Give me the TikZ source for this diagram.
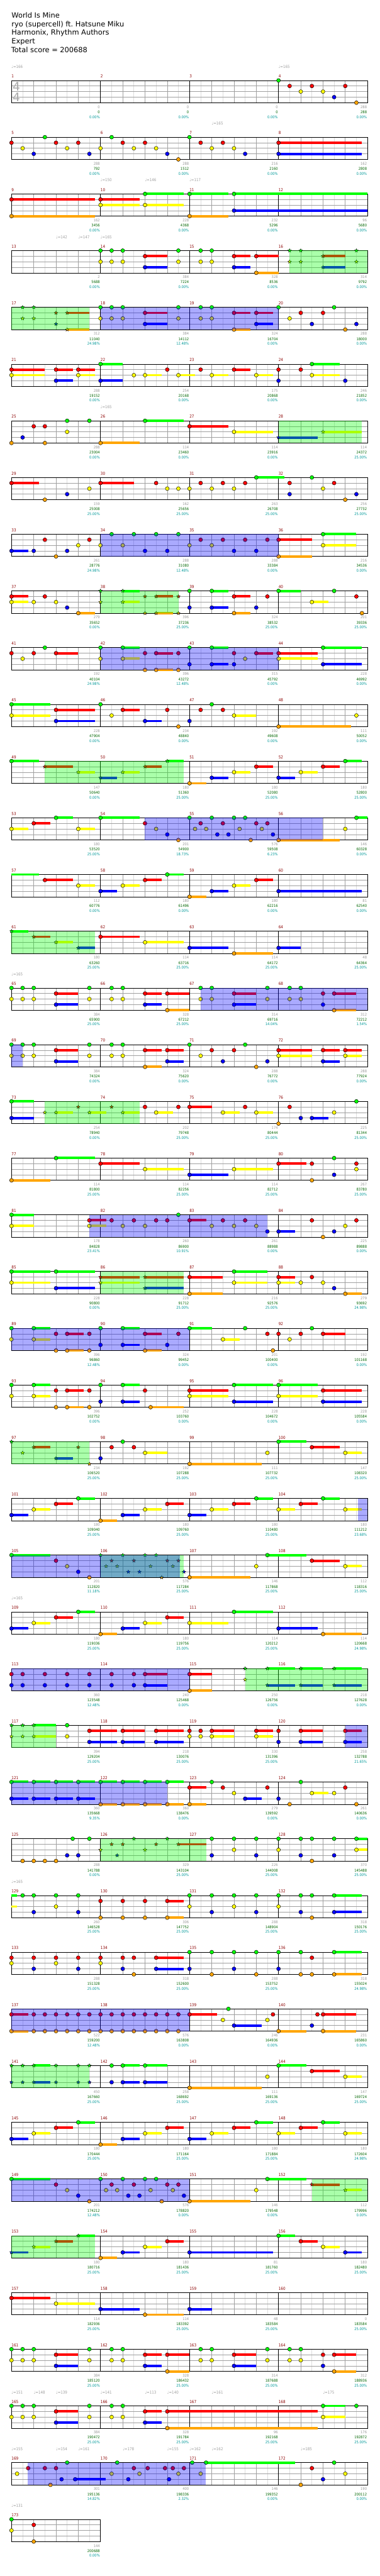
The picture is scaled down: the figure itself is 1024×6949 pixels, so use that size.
\documentclass[tikz,border=0pt]{standalone}
\usepackage{fontspec}
\setmainfont{DejaVu Sans}
\newfontfamily\chartfont[FakeStretch=0.88]{DejaVu Sans}
\usepackage{xcolor}
\usetikzlibrary{shapes.geometric}

\definecolor{lane0}{RGB}{0,255,0}
\definecolor{lane1}{RGB}{255,0,0}
\definecolor{lane2}{RGB}{255,255,0}
\definecolor{lane3}{RGB}{0,0,255}
\definecolor{lane4}{RGB}{255,165,0}
\definecolor{finegray}{RGB}{221,221,221}
\definecolor{beatgray}{RGB}{160,160,160}
\definecolor{measred}{RGB}{140,0,0}
\definecolor{cntgray}{RGB}{153,153,153}
\definecolor{sumgreen}{RGB}{0,102,0}
\definecolor{pctteal}{RGB}{0,153,153}
\definecolor{tempogray}{RGB}{160,160,160}
\definecolor{tsiggray}{RGB}{170,170,170}
\definecolor{spblue}{RGB}{0,0,255}
\definecolor{odgreen}{RGB}{0,255,0}

% one staff line: row, first measure, measures, count/sum/percent per measure
\newcommand\staffrow[4]{%
  \pgfmathsetmacro\rowtop{217+153*#1}
  \pgfmathsetmacro\rowend{31+240*#3}
  \pgfmathtruncatemacro\nfine{8*#3-1}
  \pgfmathtruncatemacro\nbeat{4*#3-1}
  \foreach \i in {1,3,...,\nfine} \draw[finegrid] (31+30*\i,\rowtop) -- ++(0,60);
  \foreach \i in {1,...,\nbeat} \draw[beatgrid] (31+60*\i,\rowtop) -- ++(0,60);
  \foreach \j in {1,2,3} \draw[beatgrid] (31,\rowtop+15*\j) -- (\rowend,\rowtop+15*\j);
  \ifnum#3>1
    \pgfmathtruncatemacro\nbar{#3-1}
    \foreach \i in {1,...,\nbar} \draw[barline] (31+240*\i,\rowtop) -- ++(0,60);
  \fi
  \draw[barline] (31,\rowtop) rectangle (\rowend,\rowtop+60);
  \foreach \cnt/\tot/\pct [count=\k] in {#4}{%
    \pgfmathtruncatemacro\mn{#2+\k-1}
    \pgfmathsetmacro\mx{31+240*\k}
    \node[measno] (num\mn) at (\mx-240,\rowtop-7) {\mn};
    \node[notecount] (nc\mn) at (\mx-1.5,\rowtop+75) {\cnt};
    \node[scoresum] (ss\mn) at (\mx-1.5,\rowtop+89) {\tot};
    \node[spct] (sp\mn) at (\mx-1.5,\rowtop+102) {\pct\%};
  }}
% tempo marks: row, beat/value
\newcommand\bpm[2]{%
  \pgfmathsetmacro\rowtop{217+153*#1}
  \foreach \bt/\val [count=\k] in {#2}
    \node[tempomark] (bpm#1-\k) at (31+60*\bt,\rowtop-33) {♩=\val};}
% gems: row, beat/lane/hold
\newcommand\gems[2]{%
  \pgfmathsetmacro\rowtop{217+153*#1}
  \foreach \gp/\gl/\gs in {#2}{%
    \pgfmathsetmacro\gx{31+60*\gp}
    \pgfmathsetmacro\gy{\rowtop+15*\gl}
    \ifdim\gs pt>0pt \draw[holdbar,draw=lane\gl] (\gx,\gy) -- ++(60*\gs,0);\fi
    \filldraw[gem,fill=lane\gl] (\gx,\gy) circle (3.9pt);
  }}
\newcommand\stargems[2]{%
  \pgfmathsetmacro\rowtop{217+153*#1}
  \foreach \gp/\gl/\gs [count=\k] in {#2}{%
    \pgfmathsetmacro\gx{31+60*\gp}
    \pgfmathsetmacro\gy{\rowtop+15*\gl}
    \ifdim\gs pt>0pt \draw[holdbar,draw=lane\gl] (\gx,\gy) -- ++(60*\gs,0);\fi
    \node[stargem,fill=lane\gl] (st#1-\k) at (\gx,\gy) {};
  }}
% holds carried over from the row above
\newcommand\tails[2]{%
  \pgfmathsetmacro\rowtop{217+153*#1}
  \foreach \gp/\gl/\gs in {#2}
    \draw[holdbar,draw=lane\gl] (31+60*\gp,\rowtop+15*\gl) -- ++(60*\gs,0);}
% star power / overdrive zones: row, from beat, to beat, colour
\newcommand\spzone[4]{%
  \pgfmathsetmacro\rowtop{217+153*#1}
  \fill[#4,opacity=0.333] (31+60*#2,\rowtop) rectangle (31+60*#3,\rowtop+60);}

\begin{document}
\begin{tikzpicture}[x=0.75pt, y=-0.75pt,
    finegrid/.style={draw=finegray, line width=0.75pt},
    beatgrid/.style={draw=beatgray, line width=0.75pt},
    barline/.style={draw=black, line width=0.8pt},
    holdbar/.style={line width=5pt},
    gem/.style={draw=black, line width=0.6pt},
    stargem/.style={star, star points=5, star point ratio=2.3, minimum size=7.5pt,
        inner sep=0pt, draw=black, line width=0.5pt},
    headline/.style={anchor=base west, inner sep=0pt, font=\fontsize{14.5}{17}\selectfont},
    tsig/.style={inner sep=0pt, text=tsiggray, font=\fontsize{24}{24}\selectfont},
    measno/.style={anchor=base west, inner sep=0pt, text=measred,
        font=\chartfont\fontsize{8.2}{9}\selectfont},
    notecount/.style={anchor=base east, inner sep=0pt, text=cntgray,
        font=\chartfont\fontsize{7.5}{8}\selectfont},
    scoresum/.style={notecount, text=sumgreen},
    spct/.style={notecount, text=pctteal},
    tempomark/.style={anchor=base west, inner sep=0pt, text=tempogray,
        font=\chartfont\fontsize{8}{9}\selectfont}]
\useasboundingbox (0,0) rectangle (1024,6949);
\fill[white] (0,0) rectangle (1024,6949);

\node[headline] (title) at (31,49) {World Is Mine};
\node[headline] (artist) at (31,72) {ryo (supercell) ft.\ Hatsune Miku};
\node[headline] (charter) at (31,95) {Harmonix, Rhythm Authors};
\node[headline] (level) at (31,118) {Expert};
\node[headline] (total) at (30,141) {Total score = 200688};

% measures 1-4
\staffrow{0}{1}{4}{0/0/0.00,0/0/0.00,0/0/0.00,288/288/0.00}
\node[tsig] (tsigtop) at (44.5,233) {4};
\node[tsig] (tsigbot) at (44.5,262.5) {4};
\bpm{0}{0/166,12/165}
\gems{0}{12/0/0,12.5/1/0,13/2/0,13.5/1/0,14/2/0,14.5/3/0,15/1/0,15.5/4/0}

% measures 5-8
\staffrow{1}{5}{4}{288/792/0.00,288/1512/0.00,216/2160/0.00,162/2808/0.00}
\bpm{1}{9/165}
\gems{1}{0/1/0,0.5/2/0,1/3/0,1.5/0/0,2/1/0,2.5/2/0,3/1/0,3.5/3/0,4/2/0,4.5/0/0,5/1/0,
  5.5/2/0,6/1/0,6.5/2/0,7/3/0,7.5/4/0,8/0/0,8.5/1/0,9/2/0,9.5/1/0,10/2/0,10.5/3/0,
  12/1/3.75,12/3/3.75}

% measures 9-12
\staffrow{2}{9}{4}{162/3456/0.00,228/4368/0.00,232/5296/0.00,96/5680/0.00}
\bpm{2}{4/150,6/146,8/117}
\gems{2}{0/1/3.75,0/4/3.75,4/1/1.75,4/2/1.75,6/0/1.75,6/2/1.75,8/0/1.75,8/4/1.75,
  10/0/6,10/3/6}

% measures 13-16
\staffrow{3}{13}{4}{2/5688/0.00,384/7224/0.00,328/8536/0.00,314/9792/0.00}
\bpm{3}{2/142,3/147,4/165}
\gems{3}{4/0/0,4/2/0,4.5/0/0,4.5/2/0,5/0/0,5/2/0,6/1/1,6/3/1,7.5/0/0,7.5/2/0,8.5/0/0,
  8.5/2/0,9/0/0,9/2/0,10/1/0.75,10/3/0.75,11/1/1,11/4/1}
\stargems{3}{12.5/0/0,12.5/2/0,13/0/0,13/2/0,14/1/1,14/3/1,15.5/0/0,15.5/2/0}
\spzone{3}{12.5}{16}{odgreen}

% measures 17-20
\staffrow{4}{17}{4}{312/11040/24.98,384/14112/12.48,324/16704/0.00,288/18000/0.00}
\stargems{4}{0.5/0/0,0.5/2/0,1/0/0,1/2/0,2/1/0,2/3/0,2.5/1/1,2.5/4/1}
\gems{4}{4/0/0,4/2/0,4.5/0/0,4.5/2/0,5/0/0,5/2/0,6/1/1,6/3/1,7.5/0/0,7.5/2/0,8.5/0/0,
  8.5/2/0,9/0/0,9/2/0,10/1/0.75,10/4/0.75,11/1/0.75,11/3/0.75,12/0/0,12.5/2/0,13/1/0,
  13.5/3/0,14/1/0,14.5/0/0,15/4/0,15.5/3/0}
\spzone{4}{0}{3.5}{odgreen}
\spzone{4}{4}{12}{spblue}

% measures 21-24
\staffrow{5}{21}{4}{288/19152/0.00,254/20168/0.00,175/20868/0.00,246/21852/0.00}
\gems{5}{0/1/1.5,0/2/1.5,2/1/0.75,2/3/0.75,3/1/0.75,3/2/0.75,4/0/1,4/3/1,5.5/2/0,
  6/2/0.75,7/1/0,7.5/2/0.75,8.5/1/0,9/2/0.75,10/1/0.75,11/2/0.75,12/1/0,12/3/0,13/1/0,
  13.5/0/1.25,13.5/2/1.25,15/3/0}

% measures 25-28
\staffrow{6}{25}{4}{288/23004/0.00,114/23460/0.00,114/23916/0.00,114/24372/25.00}
\bpm{6}{4/165}
\gems{6}{0/4/0,0.5/3/0,1/1/0,1.5/1/0,1.5/4/0,2.5/0/0,2.5/2/0,3.5/0/0,4/4/1.75,
  6/0/1.75,8/1/1.75,10/2/1.75}
\stargems{6}{12/3/1.75,14/2/1.75}
\spzone{6}{12}{15.75}{odgreen}

% measures 29-32
\staffrow{7}{29}{4}{159/25008/25.00,162/25656/25.00,263/26708/25.00,256/27732/25.00}
\gems{7}{0/1/1.25,1.5/4/0,2.5/3/0,3.5/2/0,4/1/1.5,6.5/1/0,7/2/0,7.5/2/0,8/2/0,8.5/1/0,
  9/2/0,9.5/1/0,10/2/0,10.5/1/0,11/0/1.25,12.5/1/0,12.5/3/0,13.5/0/0,14/2/0,14.5/1/0,
  15/4/0,15.5/3/0}

% measures 33-36
\staffrow{8}{33}{4}{261/28776/24.98,288/31080/12.48,288/33384/0.00,216/34536/0.00}
\gems{8}{0/3/0.75,1/3/0,1.5/1/0,2/4/0,2.5/3/0,3/2/0,3.5/1/0,4/2/0,4.5/0/0,5/2/0,
  5.5/0/0,6/3/0,6.5/0/0,7/3/0,7.5/0/0,8/2/0,8.5/1/0,9/2/0,9.5/1/0,10/3/0,10.5/1/0,
  11/3/0,11.5/1/0,12/1/1.5,12/4/1.5,14/0/1.5,14/2/1.5}
\spzone{8}{4}{12}{spblue}

% measures 37-40
\staffrow{9}{37}{4}{279/35652/0.00,396/37236/25.00,324/38532/25.00,201/39336/25.00}
\gems{9}{0/1/0.75,0/2/0.75,1/2/0,1.5/1/0,2/2/0,2.5/3/0,3/4/0.75,8/0/0,8/3/0,9/0/0.75,
  9/3/0.75,10/1/0.75,10/4/0.75,11/3/0,11.5/1/0,12/0/1,13.5/2/0.75,14.5/0/0,15.5/1/0,
  15.75/4/0}
\stargems{9}{4/0/0,4/2/0,5/0/0.75,5/2/0.75,6/1/0,6/4/0,6.5/1/0.75,6.5/4/0.75,7.5/1/0,
  7.5/4/0}
\spzone{9}{4}{7.5}{odgreen}

% measures 41-44
\staffrow{10}{41}{4}{192/40104/24.98,396/43272/12.48,315/45792/0.00,228/46992/0.00}
\gems{10}{0/1/0,0.5/2/0,1/1/0,1.5/0/0,2/1/1,4/0/0,4/2/0,5/0/0.75,5/2/0.75,6/1/0,6/4/0,
  6.5/1/0.75,6.5/4/0.75,7.5/1/0,7.5/4/0,8/0/0,8/3/0,9/0/0.75,9/3/0.75,10/1/0,10/3/0,
  10.5/2/0,11/1/0.75,12/1/1.75,12/2/1.75,14/0/1.75,14/3/1.75}
\spzone{10}{4}{12}{spblue}

% measures 45-48
\staffrow{11}{45}{4}{228/47904/0.00,234/48840/0.00,192/49608/0.00,111/50052/0.00}
\gems{11}{0/0/1.75,0/2/1.75,2/1/1.75,2/3/1.75,4/0/0,4.5/2/0,5/1/0.75,6/3/0.75,7/1/0,
  7.5/4/0,8/3/0,8.5/1/0,9/0/0,9.5/1/0,10/2/1,12/4/3.25,15.5/2/0}

% measures 49-52
\staffrow{12}{49}{4}{147/50640/0.00,180/51360/25.00,180/52080/25.00,180/52800/25.00}
\gems{12}{0/0/1.25,8/4/0.75,9/3/0.75,10/2/0.75,11/1/0.75,12/3/0.75,13/2/0.75,14/1/0.75,
  15/0/0.75}
\stargems{12}{1.5/1/1.25,3/2/0.75,4/3/0.75,5/2/0.75,6/1/0.75,7/0/0.75}
\spzone{12}{1.5}{7.75}{odgreen}

% measures 53-56
\staffrow{13}{53}{4}{180/53520/25.00,201/54900/18.73,576/59508/6.23,146/60328/0.00}
\gems{13}{0/2/0.75,1/1/0.75,2/0/0.75,3/2/0.75,4/0/1.75,6/1/0,6.5/2/0,7/3/0,7.5/4/0,
  8/0/0,8.25/2/0,8.5/1/0,8.75/2/0,9/0/0,9.25/3/0,9.5/1/0,9.75/3/0,10/0/0,10.25/2/0,
  10.5/0/0,10.75/4/0,11/1/0,11.25/2/0,11.5/1/0,11.75/3/0,12/4/2.75,15/2/0,15.5/0/0.5}
\spzone{13}{6}{14}{spblue}

% measures 57-60
\staffrow{14}{57}{4}{112/60776/0.00,180/61496/0.00,180/62216/0.00,81/62540/0.00}
\tails{14}{0/0/1.25}
\gems{14}{1.5/1/1.25,3/2/0.75,4/3/0.75,5/2/0.75,6/1/0.75,7/0/0.75,8/4/0.75,9/3/0.75,
  10/2/0.75,11/1/0.75,12/3/3.75}

% measures 61-64
\staffrow{15}{61}{4}{180/63260/25.00,114/63716/25.00,114/64172/25.00,48/64364/25.00}
\stargems{15}{0/0/0.75,1/1/0.75,2/2/0.75,3/3/0.75}
\gems{15}{4/1/1.75,6/2/1.75,8/3/1.75,10/4/1.75,12/3/1}
\spzone{15}{0}{3.75}{odgreen}

% measures 65-68
\staffrow{16}{65}{4}{384/65900/25.00,328/67212/25.00,314/69716/14.04,312/72212/1.54}
\bpm{16}{0/165}
\gems{16}{0/0/0,0/2/0,0.5/0/0,0.5/2/0,1/0/0,1/2/0,2/1/1,2/3/1,3.5/0/0,3.5/2/0,4.5/0/0,
  4.5/2/0,5/0/0,5/2/0,6/1/0.75,6/3/0.75,7/1/1,7/4/1,8.5/0/0,8.5/2/0,9/0/0,9/2/0,
  10/1/1,10/3/1,11.5/0/0,11.5/2/0,12.5/0/0,12.5/2/0,13/0/0,13/2/0,14/1/0,14/3/0,
  14.5/1/1,14.5/4/1}
\spzone{16}{8.5}{16}{spblue}

% measures 69-72
\staffrow{17}{69}{4}{384/74324/0.00,324/75620/0.00,288/76772/0.00,288/77924/0.00}
\gems{17}{0/0/0,0/2/0,0.5/0/0,0.5/2/0,1/0/0,1/2/0,2/1/1,2/3/1,3.5/0/0,3.5/2/0,4.5/0/0,
  4.5/2/0,5/0/0,5/2/0,6/1/0.75,6/4/0.75,7/1/0.75,7/3/0.75,8/0/0,8.5/2/0,9/1/0,9.5/3/0,
  10/1/0,10.5/0/0,11/4/0,11.5/3/0,12/1/1.5,12/2/1.5,14/1/0.75,14/3/0.75,15/1/0.75,
  15/2/0.75}
\spzone{17}{0}{0.5}{spblue}

% measures 73-76
\staffrow{18}{73}{4}{254/78940/0.00,202/79748/25.00,174/80444/25.00,225/81344/25.00}
\gems{18}{0/0/1,0/3/1,6/1/0,6.5/2/0.75,7.5/1/0,8/1/1,9.5/2/0.75,10.5/1/0,11/2/0.75,
  12/4/0,12.5/1/0,13/3/0,13.5/3/0.75,14.5/2/0,15.5/0/0}
\stargems{18}{1.5/2/0,2/2/0.75,3/1/0,3.5/2/0.75,4.5/1/0,5/2/0.75}
\spzone{18}{1.5}{5.75}{odgreen}

% measures 77-80
\staffrow{19}{77}{4}{114/81800/25.00,114/82256/25.00,114/82712/25.00,267/83780/25.00}
\gems{19}{0/4/1.75,2/0/1.75,4/1/1.75,6/2/1.75,8/3/1.75,10/2/1.75,12/1/1.25,13.5/1/0,
  13.5/4/0,14.5/0/0,14.5/3/0,15.5/1/0,15.5/2/0}

% measures 81-84
\staffrow{20}{81}{4}{178/84828/23.41,260/86900/10.91,261/88988/0.00,225/89888/0.00}
\gems{20}{0/0/1,0/2/1,3.5/1/0.75,3.5/2/0.75,4.5/1/0,5/2/0,5.5/1/0,6/2/0,6.5/1/0,7/1/0,
  7.5/0/0,8/1/0.75,9/2/0,9.5/1/0,10/2/0,10.5/1/0,11/2/0,11.5/3/0,12/3/0.75,13.5/1/0,
  14/4/0,14.5/3/0,15/2/0,15.5/1/0}
\spzone{20}{3.5}{11.5}{spblue}

% measures 85-88
\staffrow{21}{85}{4}{228/90800/0.00,228/91712/25.00,216/92576/25.00,279/93692/24.98}
\gems{21}{0/0/1.75,0/2/1.75,2/0/1.75,2/3/1.75,8/1/1.5,8/4/1.5,10/0/1.5,10/2/1.5,
  12/1/0.75,12/2/0.75,13/2/0,13.5/1/0,14/2/0,14.5/3/0,15/4/0.75}
\stargems{21}{4/1/1.75,4/2/1.75,6/1/1.75,6/3/1.75}
\spzone{21}{4}{7.75}{odgreen}

% measures 89-92
\staffrow{22}{89}{4}{396/96860/12.48,324/99452/0.00,201/100400/0.00,192/101168/0.00}
\gems{22}{0/0/0,0/2/0,1/0/0.75,1/2/0.75,2/1/0,2/4/0,2.5/1/0.75,2.5/4/0.75,3.5/1/0,
  3.5/4/0,4/0/0,4/3/0,5/0/0.75,5/3/0.75,6/1/0.75,6/4/0.75,7/3/0,7.5/1/0,8/0/1,
  9.5/2/0.75,10.5/0/0,11.5/1/0,11.75/4/0,12/1/0,12.5/2/0,13/1/0,13.5/0/0,14/1/1}
\spzone{22}{0}{8}{spblue}

% measures 93-96
\staffrow{23}{93}{4}{396/102752/0.00,252/103760/0.00,228/104672/0.00,228/105584/0.00}
\gems{23}{0/0/0,0/2/0,1/0/0.75,1/2/0.75,2/1/0,2/4/0,2.5/1/0.75,2.5/4/0.75,3.5/1/0,
  3.5/4/0,4/0/0,4/3/0,5/0/0.75,5/3/0.75,6/1/0,6.25/4/1.5,8/1/1.75,8/2/1.75,10/0/1.75,
  10/3/1.75,12/0/1.75,12/2/1.75,14/1/1.75,14/3/1.75}

% measures 97-100
\staffrow{24}{97}{4}{234/106520/25.00,192/107288/25.00,111/107732/25.00,147/108320/25.00}
\stargems{24}{0/0/0,0.5/2/0,1/1/0.75,2/3/0.75,3/1/0,3.5/4/0}
\gems{24}{4/3/0,4.5/1/0,5/0/0,5.5/1/0,6/2/1,8/4/3.25,11.5/2/0,12/0/1.25,13.5/1/1.25,
  15/2/0.75}
\spzone{24}{0}{3.5}{odgreen}

% measures 101-104
\staffrow{25}{101}{4}{180/109040/25.00,180/109760/25.00,180/110480/25.00,180/111212/23.68}
\gems{25}{0/3/0.75,1/2/0.75,2/1/0.75,3/0/0.75,4/4/0.75,5/3/0.75,6/2/0.75,7/1/0.75,
  8/3/0.75,9/2/0.75,10/1/0.75,11/0/0.75,12/2/0.75,13/1/0.75,14/0/0.75,15/2/0.75}
\spzone{25}{15.56}{16}{spblue}

% measures 105-108
\staffrow{26}{105}{4}{201/112820/11.18,576/117284/25.00,146/117868/25.00,112/118316/25.00}
\gems{26}{0/0/1.75,2/1/0,2.5/2/0,3/3/0,3.5/4/0,8/4/2.75,11/2/0,11.5/0/1.75,13.5/1/1.25,
  15/2/0.75}
\stargems{26}{4/0/0,4.25/2/0,4.5/1/0,4.75/2/0,5/0/0,5.25/3/0,5.5/1/0,5.75/3/0,6/0/0,
  6.25/2/0,6.5/0/0,6.75/4/0,7/1/0,7.25/2/0,7.5/1/0,7.75/3/0}
\spzone{26}{4}{7.75}{odgreen}
\spzone{26}{0}{7.56}{spblue}

% measures 109-112
\staffrow{27}{109}{4}{180/119036/25.00,180/119756/25.00,114/120212/25.00,114/120668/24.98}
\bpm{27}{0/165}
\gems{27}{0/3/0.75,1/2/0.75,2/1/0.75,3/0/0.75,4/4/0.75,5/3/0.75,6/2/0.75,7/1/0.75,
  8/2/1.75,10/0/1.75,12/3/1.75,14/4/1.75}

% measures 113-116
\staffrow{28}{113}{4}{360/123548/12.48,240/125468/0.00,250/126756/0.00,218/127628/0.00}
\gems{28}{0/1/0,0/3/0,0.5/1/0,0.5/3/0,1.5/1/0,1.5/3/0,2.5/1/0,2.5/3/0,3.5/1/0,3.5/3/0,
  4.5/1/0,4.5/3/0,5.5/1/0,5.5/3/0,6/1/1,6/3/1,8/1/1,8/4/1}
\stargems{28}{10.5/0/0,10.5/2/0,11.5/0/1.25,11.5/3/1.25,13/0/1,13/3/1,14.5/0/1.25,
  14.5/3/1.25}
\spzone{28}{0}{8}{spblue}
\spzone{28}{10.5}{16}{odgreen}

% measures 117-120
\staffrow{29}{117}{4}{394/129204/25.00,218/130076/25.00,330/131396/25.00,258/132788/21.65}
\stargems{29}{0/0/0,0/2/0,0.5/0/0,0.5/2/0,1/0/1,1/2/1}
\gems{29}{2.5/0/0,2.5/2/0,3.5/1/1.25,3.5/3/1.25,5/1/1,5/3/1,6.5/1/1.25,6.5/3/1.25,
  8/1/0,8/2/0,8.5/1/0,8.5/2/0,9/1/1,9/2/1,11/1/0.75,11/2/0.75,12/1/0,12/3/0,13/1/1,
  13/3/1,15/1/0.75,15/3/0.75}
\spzone{29}{0}{2}{odgreen}
\spzone{29}{15}{16}{spblue}

% measures 121-124
\staffrow{30}{121}{4}{360/135668/9.35,360/138476/0.00,279/139592/0.00,261/140636/0.00}
\gems{30}{0/0/0.75,0/3/0.75,1/0/0.75,1/3/0.75,2/0/0.75,2/3/0.75,3/0/0.75,3/3/0.75,
  4/0/0.75,4/4/0.75,5/0/0.75,5/4/0.75,6/0/0.75,6/4/0.75,7/0/0.75,7/4/0.75,8/1/0.75,
  8/4/0.75,9/0/0,9.5/1/0,10/2/0,10.5/3/0.75,11.5/1/0,12/3/0,12.5/4/0,13/0/0,
  13.5/2/0.75,14.5/2/0,15/1/0,15.5/4/0}
\spzone{30}{0}{7}{spblue}

% measures 125-128
\staffrow{31}{125}{4}{288/141788/0.00,329/143104/25.00,226/144008/25.00,370/145488/25.00}
\gems{31}{0.5/4/0,1/4/0,1.5/4/0,2/4/0,2.5/3/0,2.75/0/0,3/3/0,3.5/0/0,9/0/0,9/3/0,
  10/0/0,10/2/0,11/0/0,11/3/0,12/0/0,12/2/0,13/0/0,13/3/0,13.5/0/0,13.5/4/0,14.5/0/0,
  14.5/3/0,15.5/0/0.5,15.5/2/0.5}
\stargems{31}{4/2/0,4.5/1/0,4.75/3/0,5/1/0,5.5/0/0,6/2/0,6.5/1/0,7/0/0,7.5/1/1.25}
\spzone{31}{4}{8.75}{odgreen}

% measures 129-132
\staffrow{32}{129}{4}{260/146528/25.00,306/147752/25.00,288/148904/25.00,318/150176/25.00}
\bpm{32}{0/165}
\tails{32}{0/0/0.25,0/2/0.25}
\gems{32}{0.5/0/0,1/0/0,1/3/0,2/0/0,2/2/0,3/0/0,3/3/0,4/1/0,4/4/0,5/1/0,5/4/0,6/1/0,
  6/4/0,7/1/0.75,7/4/0.75,8/0/0,8/2/0,9/0/0,9/3/0,10/0/0,10/2/0,11/0/0,11/3/0,12/0/0,
  12/2/0,13/0/0,13/3/0,13.5/0/0,13.5/4/0,14.5/0/1.25,14.5/3/1.25}

% measures 133-136
\staffrow{33}{133}{4}{288/151328/25.00,318/152600/25.00,288/153752/25.00,318/155024/24.98}
\gems{33}{0/1/0,0/2/0,1/1/0,1/3/0,2/1/0,2/2/0,3/1/0,3/3/0,4/1/0,4/2/0,5/1/0,5/3/0,
  5.5/1/0,5.5/4/0,6.5/1/1.25,6.5/3/1.25,8/0/0,8/3/0,9/0/0,9/4/0,10/0/0,10/3/0,11/0/0,
  11/4/0,12/0/0,12/3/0,13/0/0,13/4/0,13.5/1/0,13.5/4/0,14.5/0/1.25,14.5/4/1.25}

% measures 137-140
\staffrow{34}{137}{4}{522/159200/12.48,576/163808/0.00,246/164936/0.00,231/165860/0.00}
\gems{34}{0/1/0.75,0/4/0.75,1/1/0,1/4/0,1.5/1/0,1.5/4/0,2/1/0,2/4/0,2.5/1/0,2.5/4/0,
  3/1/0,3/4/0,3.5/1/0,3.5/4/0,4/1/0,4/4/0,4.5/1/0,4.5/4/0,5/1/0,5/4/0,5.5/1/0,5.5/4/0,
  6/1/0,6/4/0,6.5/1/0,6.5/4/0,7/1/0,7/4/0,7.5/1/0,7.5/4/0,8/1/1.25,9.5/2/0,9.75/0/0,
  10/3/1.25,11.5/2/0,11.75/1/0,12/4/1.25,13.5/3/0,13.75/1/0,14/1/1.5,14/4/1.5}
\spzone{34}{0}{8}{spblue}

% measures 141-144
\staffrow{35}{141}{4}{450/167660/25.00,258/168692/25.00,111/169136/25.00,147/169724/25.00}
\stargems{35}{0/0/0,0/3/0,0.5/0/0,0.5/3/0,1/0/0.75,1/3/0.75,2/0/0,2/3/0,3/0/0,3/3/0,
  3.5/0/0,3.5/3/0}
\gems{35}{4.5/0/0,4.5/3/0,5/0/0.75,5/3/0.75,6/0/1,6/3/1,8/4/3.25,11.5/2/0,12/0/1.25,
  13.5/1/1.25,15/2/0.75}
\spzone{35}{0}{3.5}{odgreen}

% measures 145-148
\staffrow{36}{145}{4}{180/170444/25.00,180/171164/25.00,180/171884/25.00,180/172604/24.98}
\gems{36}{0/3/0.75,1/2/0.75,2/1/0.75,3/0/0.75,4/4/0.75,5/3/0.75,6/2/0.75,7/1/0.75,
  8/3/0.75,9/2/0.75,10/1/0.75,11/0/0.75,12/2/0.75,13/1/0.75,14/0/0.75,15/2/0.75}

% measures 149-152
\staffrow{37}{149}{4}{201/174212/12.48,576/178820/0.00,146/179548/0.00,112/179996/0.00}
\gems{37}{0/0/1.75,2/1/0,2.5/2/0,3/3/0,3.5/4/0,4/0/0,4.25/2/0,4.5/1/0,4.75/2/0,5/0/0,
  5.25/3/0,5.5/1/0,5.75/3/0,6/0/0,6.25/2/0,6.5/0/0,6.75/4/0,7/1/0,7.25/2/0,7.5/1/0,
  7.75/3/0,8/4/2.75,11/2/0,11.5/0/1.75}
\stargems{37}{13.5/1/1.25,15/2/0.75}
\spzone{37}{0}{8}{spblue}
\spzone{37}{13.5}{16}{odgreen}

% measures 153-156
\staffrow{38}{153}{4}{180/180716/25.00,180/181436/25.00,81/181760/25.00,180/182480/25.00}
\stargems{38}{0/3/0.75,1/2/0.75,2/1/0.75,3/0/0.75}
\gems{38}{4/4/0.75,5/3/0.75,6/2/0.75,7/1/0.75,8/3/3.75,12/0/0.75,13/1/0.75,14/2/0.75,
  15/3/0.75}
\spzone{38}{0}{3.75}{odgreen}

% measures 157-160
\staffrow{39}{157}{4}{114/182936/25.00,114/183392/25.00,48/183584/25.00,0/183584/25.00}
\gems{39}{0/1/1.75,2/2/1.75,4/3/1.75,6/4/1.75,8/3/1}

% measures 161-164
\staffrow{40}{161}{4}{384/185120/25.00,328/186432/25.00,314/187688/25.00,312/188936/25.00}
\gems{40}{0/0/0,0/2/0,0.5/0/0,0.5/2/0,1/0/0,1/2/0,2/1/1,2/3/1,3.5/0/0,3.5/2/0,4.5/0/0,
  4.5/2/0,5/0/0,5/2/0,6/1/0.75,6/3/0.75,7/1/1,7/4/1,8.5/0/0,8.5/2/0,9/0/0,9/2/0,
  10/1/1,10/3/1,11.5/0/0,11.5/2/0,12.5/0/0,12.5/2/0,13/0/0,13/2/0,14/1/0,14/3/0,
  14.5/1/1,14.5/4/1}

% measures 165-168
\staffrow{41}{165}{4}{384/190472/25.00,328/191784/25.00,96/192168/25.00,176/192872/25.00}
\bpm{41}{0/151,1/148,2/139,4/141,6/113,7/140,9/161,14/175}
\gems{41}{0/0/0,0/2/0,0.5/0/0,0.5/2/0,1/0/0,1/2/0,2/1/1,2/3/1,3.5/0/0,3.5/2/0,4.5/0/0,
  4.5/2/0,5/0/0,5/2/0,6/1/0.75,6/3/0.75,7/1/6.75,7/4/6.75,14/0/1,14/2/1,15.5/0/0}

% measures 169-172
\staffrow{42}{169}{4}{301/195136/14.82,400/198336/2.32,146/199352/0.00,190/200112/0.00}
\bpm{42}{0/155,2/154,3/161,5/178,7/155,8/162,9/162,13/185}
\gems{42}{0.25/2/0,0.75/1/0,1.5/1/0,1.75/4/0,2/1/0,2.25/3/0,2.5/0/0,2.86/3/1.38,
  4.5/2/0,4.75/0/0,5.25/3/0,5.5/1/0,5.75/2/0,6.12/1/0,6.9/1/0,7.08/3/0,7.25/1/0,
  7.5/2/0,7.75/1/0,8.12/0/0,8.5/2/0,8.74/0/4,13/4/0,13.5/1/0,14/3/0,14.5/0/0,15/2/0}
\spzone{42}{0.73}{8.74}{spblue}

% measure 173
\staffrow{43}{173}{1}{144/200688/0.00}
\bpm{43}{0/131}
\gems{43}{0/0/0,0/2/0,1/1/0,1/4/0}
\end{tikzpicture}
\end{document}
